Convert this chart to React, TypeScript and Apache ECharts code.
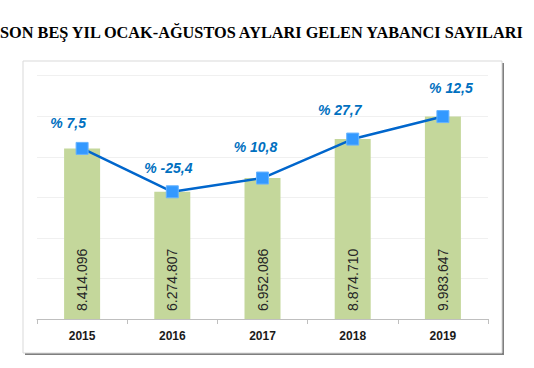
import React, { useEffect, useRef } from "react";
import * as echarts from "echarts";

const title = "SON BEŞ YIL OCAK-AĞUSTOS AYLARI GELEN YABANCI SAYILARI";
const years = ["2015", "2016", "2017", "2018", "2019"];
const visitors = [8414096, 6274807, 6952086, 8874710, 9983647];
const changePct = ["7,5", "-25,4", "10,8", "27,7", "12,5"];
const labelNudges = [[-14, -6], [-4, -4], [-7, -12], [-13, -10], [8, -9]];

function fmt(n: number): string {
  return String(n).replace(/\B(?=(\d{3})+(?!\d))/g, ".");
}

export default function App() {
  const ref = useRef<HTMLDivElement>(null);
  useEffect(() => {
    if (!ref.current) return;
    const chart = echarts.init(ref.current, null, { renderer: "svg" });
    chart.setOption({
      animation: false,
      backgroundColor: "#ffffff",
      graphic: [
        { type: "rect", z: -10, silent: true, shape: { x: 25, y: 63, width: 479, height: 292 }, style: { fill: "#7f7f7f" } },
        { type: "rect", z: -9, silent: true, shape: { x: 23, y: 61, width: 479, height: 292 }, style: { fill: "#ffffff", stroke: "#d9d9d9", lineWidth: 1 } },
        {
          type: "text", left: 0, top: 24, z: 10,
          style: { text: title, fill: "#000000", font: "bold 16.3px 'Liberation Serif', 'DejaVu Serif', serif" },
        },
      ],
      grid: { left: 37, right: 46, top: 75.7, bottom: 49, containLabel: false },
      xAxis: {
        type: "category",
        data: years,
        axisLine: { lineStyle: { color: "#bfbfbf", width: 1 } },
        axisTick: { show: true, length: 5, lineStyle: { color: "#bfbfbf" } },
        axisLabel: { color: "#1a1a1a", fontWeight: "bold", fontSize: 12, fontFamily: "'Liberation Sans', Arial, sans-serif", margin: 11 },
      },
      yAxis: {
        type: "value",
        min: 0,
        max: 12000000,
        interval: 2000000,
        axisLabel: { show: false },
        axisLine: { show: false },
        axisTick: { show: false },
        splitLine: { lineStyle: { color: "#f0f0f0", width: 1 } },
      },
      series: [
        {
          type: "bar",
          data: visitors,
          barWidth: 36,
          itemStyle: { color: "#c4d79b" },
          label: {
            show: true,
            position: "insideBottom",
            rotate: 90,
            distance: 8,
            align: "left",
            verticalAlign: "middle",
            formatter: (p: any) => fmt(p.value),
            color: "#262626",
            fontSize: 14,
            fontFamily: "'Liberation Sans', Arial, sans-serif",
          },
        },
        {
          type: "line",
          data: visitors.map((v, i) => ({
            value: v,
            label: { offset: labelNudges[i] },
          })),
          symbol: "rect",
          symbolSize: 12,
          lineStyle: { color: "#0066cc", width: 2.5 },
          itemStyle: { color: "#3399ff", borderColor: "#66b3ff", borderWidth: 1 },
          label: {
            show: true,
            position: "top",
            distance: 6,
            formatter: (p: any) => "% " + changePct[p.dataIndex],
            color: "#0070c0",
            fontSize: 14,
            fontStyle: "italic",
            fontWeight: "bold",
            fontFamily: "'Liberation Sans', Arial, sans-serif",
          },
          z: 5,
        },
      ],
    });
    return () => chart.dispose();
  }, []);
  return <div ref={ref} style={{ width: 534, height: 368, position: "absolute", left: 0, top: 0 }} />;
}
